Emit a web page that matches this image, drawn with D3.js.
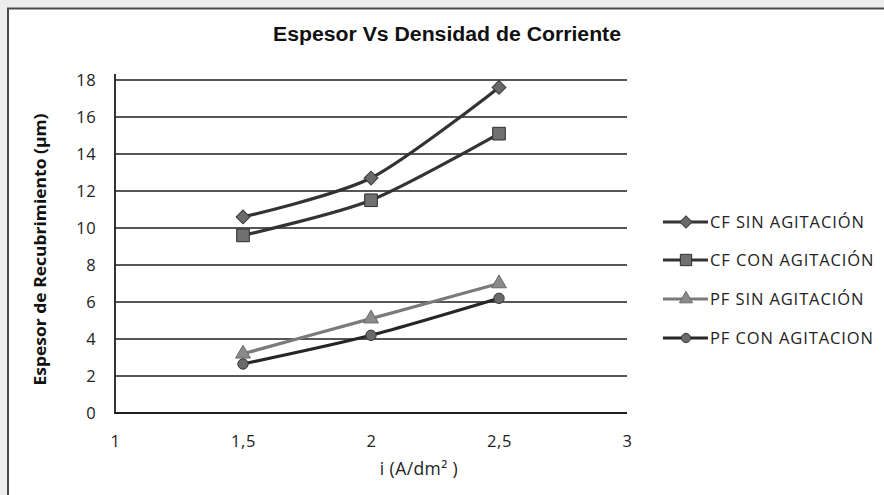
<!DOCTYPE html>
<html>
<head>
<meta charset="utf-8">
<script src="https://cdn.jsdelivr.net/npm/d3@7"></script>
<style>
  html, body { margin: 0; padding: 0; background: #ededed; }
  svg { display: block; }
</style>
</head>
<body>
<svg id="chart" width="884" height="495"></svg>
<script>
// Current density (A/dm²) and coating thickness (µm) per condition
const densidad = [1.5, 2, 2.5];
const cfSinAgitacion = [10.6, 12.7, 17.6];
const cfConAgitacion = [9.6, 11.5, 15.1];
const pfSinAgitacion = [3.2, 5.1, 7.0];
const pfConAgitacion = [2.65, 4.2, 6.2];

const seriesNames = ["CF SIN AGITACIÓN", "CF CON AGITACIÓN", "PF SIN AGITACIÓN", "PF CON AGITACION"];
const xTicks = [1, 1.5, 2, 2.5, 3];
const yTicks = [0, 2, 4, 6, 8, 10, 12, 14, 16, 18];

const series = [
  { name: seriesNames[0], values: cfSinAgitacion, line: "#333", fill: "#6a6a6a", stroke: "#3a3a3a", symbol: d3.symbolSquare, size: 95, rot: 45 },
  { name: seriesNames[1], values: cfConAgitacion, line: "#333", fill: "#707070", stroke: "#2e2e2e", symbol: d3.symbolSquare, size: 160, rot: 0 },
  { name: seriesNames[2], values: pfSinAgitacion, line: "#7a7a7a", fill: "#8a8a8a", stroke: "#6a6a6a", symbol: d3.symbolTriangle, size: 95, rot: 0 },
  { name: seriesNames[3], values: pfConAgitacion, line: "#262626", fill: "#6a6a6a", stroke: "#3a3a3a", symbol: d3.symbolCircle, size: 85, rot: 0 }
];

const svg = d3.select("#chart");

// white chart panel with dark frame
svg.append("rect")
  .attr("x", 8).attr("y", 8.5)
  .attr("width", 900).attr("height", 520)
  .attr("fill", "#fff").attr("stroke", "#4a4a4a").attr("stroke-width", 2);

const plot = { left: 115, right: 627, top: 80, bottom: 413 };

const x = d3.scaleLinear().domain([1, 3]).range([plot.left, plot.right]);
const y = d3.scaleLinear().domain([0, 18]).range([plot.bottom, plot.top]);

// title
svg.append("text")
  .attr("x", 447).attr("y", 41)
  .attr("text-anchor", "middle")
  .attr("font-family", "'Liberation Sans Narrow', 'Arial Narrow', 'Liberation Sans', sans-serif")
  .attr("font-weight", "bold")
  .attr("font-size", 20)
  .attr("textLength", 348)
  .attr("lengthAdjust", "spacingAndGlyphs")
  .attr("fill", "#111")
  .text("Espesor Vs Densidad de Corriente");

// horizontal gridlines
svg.append("g")
  .selectAll("line")
  .data(yTicks.filter(d => d > 0))
  .join("line")
  .attr("x1", plot.left).attr("x2", plot.right)
  .attr("y1", d => y(d)).attr("y2", d => y(d))
  .attr("stroke", "#1e1e1e").attr("stroke-width", 1.6);

// y axis
const yAxis = svg.append("g")
  .attr("transform", `translate(${plot.left},0)`)
  .call(d3.axisLeft(y).tickValues(yTicks).tickSize(0).tickPadding(19).tickFormat(d3.format("d")));
yAxis.select(".domain").remove();
yAxis.selectAll("text")
  .attr("font-family", "'Open Sans', sans-serif")
  .attr("font-size", 16.5)
  .attr("letter-spacing", 0.4)
  .attr("fill", "#222");

// x axis
const xAxis = svg.append("g")
  .attr("transform", `translate(0,${plot.bottom})`)
  .call(d3.axisBottom(x).tickValues(xTicks).tickSize(0).tickPadding(22)
    .tickFormat(d => String(d).replace(".", ",")));
xAxis.select(".domain").remove();
xAxis.selectAll("text")
  .attr("font-family", "'Open Sans', sans-serif")
  .attr("font-size", 16.5)
  .attr("letter-spacing", 0.6)
  .attr("fill", "#222");

// axis lines
svg.append("line")
  .attr("x1", plot.left).attr("x2", plot.left)
  .attr("y1", plot.top - 6).attr("y2", plot.bottom + 1)
  .attr("stroke", "#1e1e1e").attr("stroke-width", 1.8);
svg.append("line")
  .attr("x1", plot.left).attr("x2", plot.right)
  .attr("y1", plot.bottom).attr("y2", plot.bottom)
  .attr("stroke", "#1e1e1e").attr("stroke-width", 1.8);

// axis titles
svg.append("text")
  .attr("transform", `translate(46,${(plot.top + plot.bottom) / 2 + 3}) rotate(-90)`)
  .attr("text-anchor", "middle")
  .attr("font-family", "'Open Sans', sans-serif")
  .attr("font-weight", "bold")
  .attr("font-size", 16.5)
  .attr("textLength", 272)
  .attr("lengthAdjust", "spacingAndGlyphs")
  .attr("fill", "#111")
  .text("Espesor de Recubrimiento (µm)");

svg.append("text")
  .attr("x", 419).attr("y", 475)
  .attr("text-anchor", "middle")
  .attr("font-family", "'Open Sans', sans-serif")
  .attr("font-size", 17.5)
  .attr("letter-spacing", 0.4)
  .attr("fill", "#222")
  .text("i (A/dm² )");

// smoothed series lines
const line = d3.line()
  .x((d, i) => x(densidad[i]))
  .y(d => y(d))
  .curve(d3.curveCardinal.tension(0.2));

const gSeries = svg.append("g");
series.forEach(s => {
  gSeries.append("path")
    .datum(s.values)
    .attr("d", line)
    .attr("fill", "none")
    .attr("stroke", s.line)
    .attr("stroke-width", 3.2)
    .attr("stroke-linejoin", "round");
});
series.forEach(s => {
  gSeries.append("g")
    .selectAll("path")
    .data(s.values)
    .join("path")
    .attr("transform", (d, i) => `translate(${x(densidad[i])},${y(d)}) rotate(${s.rot})`)
    .attr("d", d3.symbol().type(s.symbol).size(s.size))
    .attr("fill", s.fill)
    .attr("stroke", s.stroke)
    .attr("stroke-width", 1);
});

// legend
const legendRows = [222, 260, 299, 338];
const legend = svg.append("g");
series.forEach((s, i) => {
  const row = legend.append("g").attr("transform", `translate(0,${legendRows[i]})`);
  row.append("line")
    .attr("x1", 663).attr("x2", 708)
    .attr("y1", 0).attr("y2", 0)
    .attr("stroke", s.line).attr("stroke-width", 3.2);
  row.append("path")
    .attr("transform", `translate(686,0) rotate(${s.rot})`)
    .attr("d", d3.symbol().type(s.symbol).size(s.size * 0.8))
    .attr("fill", s.fill)
    .attr("stroke", s.stroke)
    .attr("stroke-width", 1);
  row.append("text")
    .attr("x", 710).attr("y", 6)
    .attr("font-family", "'Open Sans', sans-serif")
    .attr("font-size", 16.5)
    .attr("letter-spacing", 0.9)
    .attr("fill", "#222")
    .text(s.name);
});
</script>
</body>
</html>
